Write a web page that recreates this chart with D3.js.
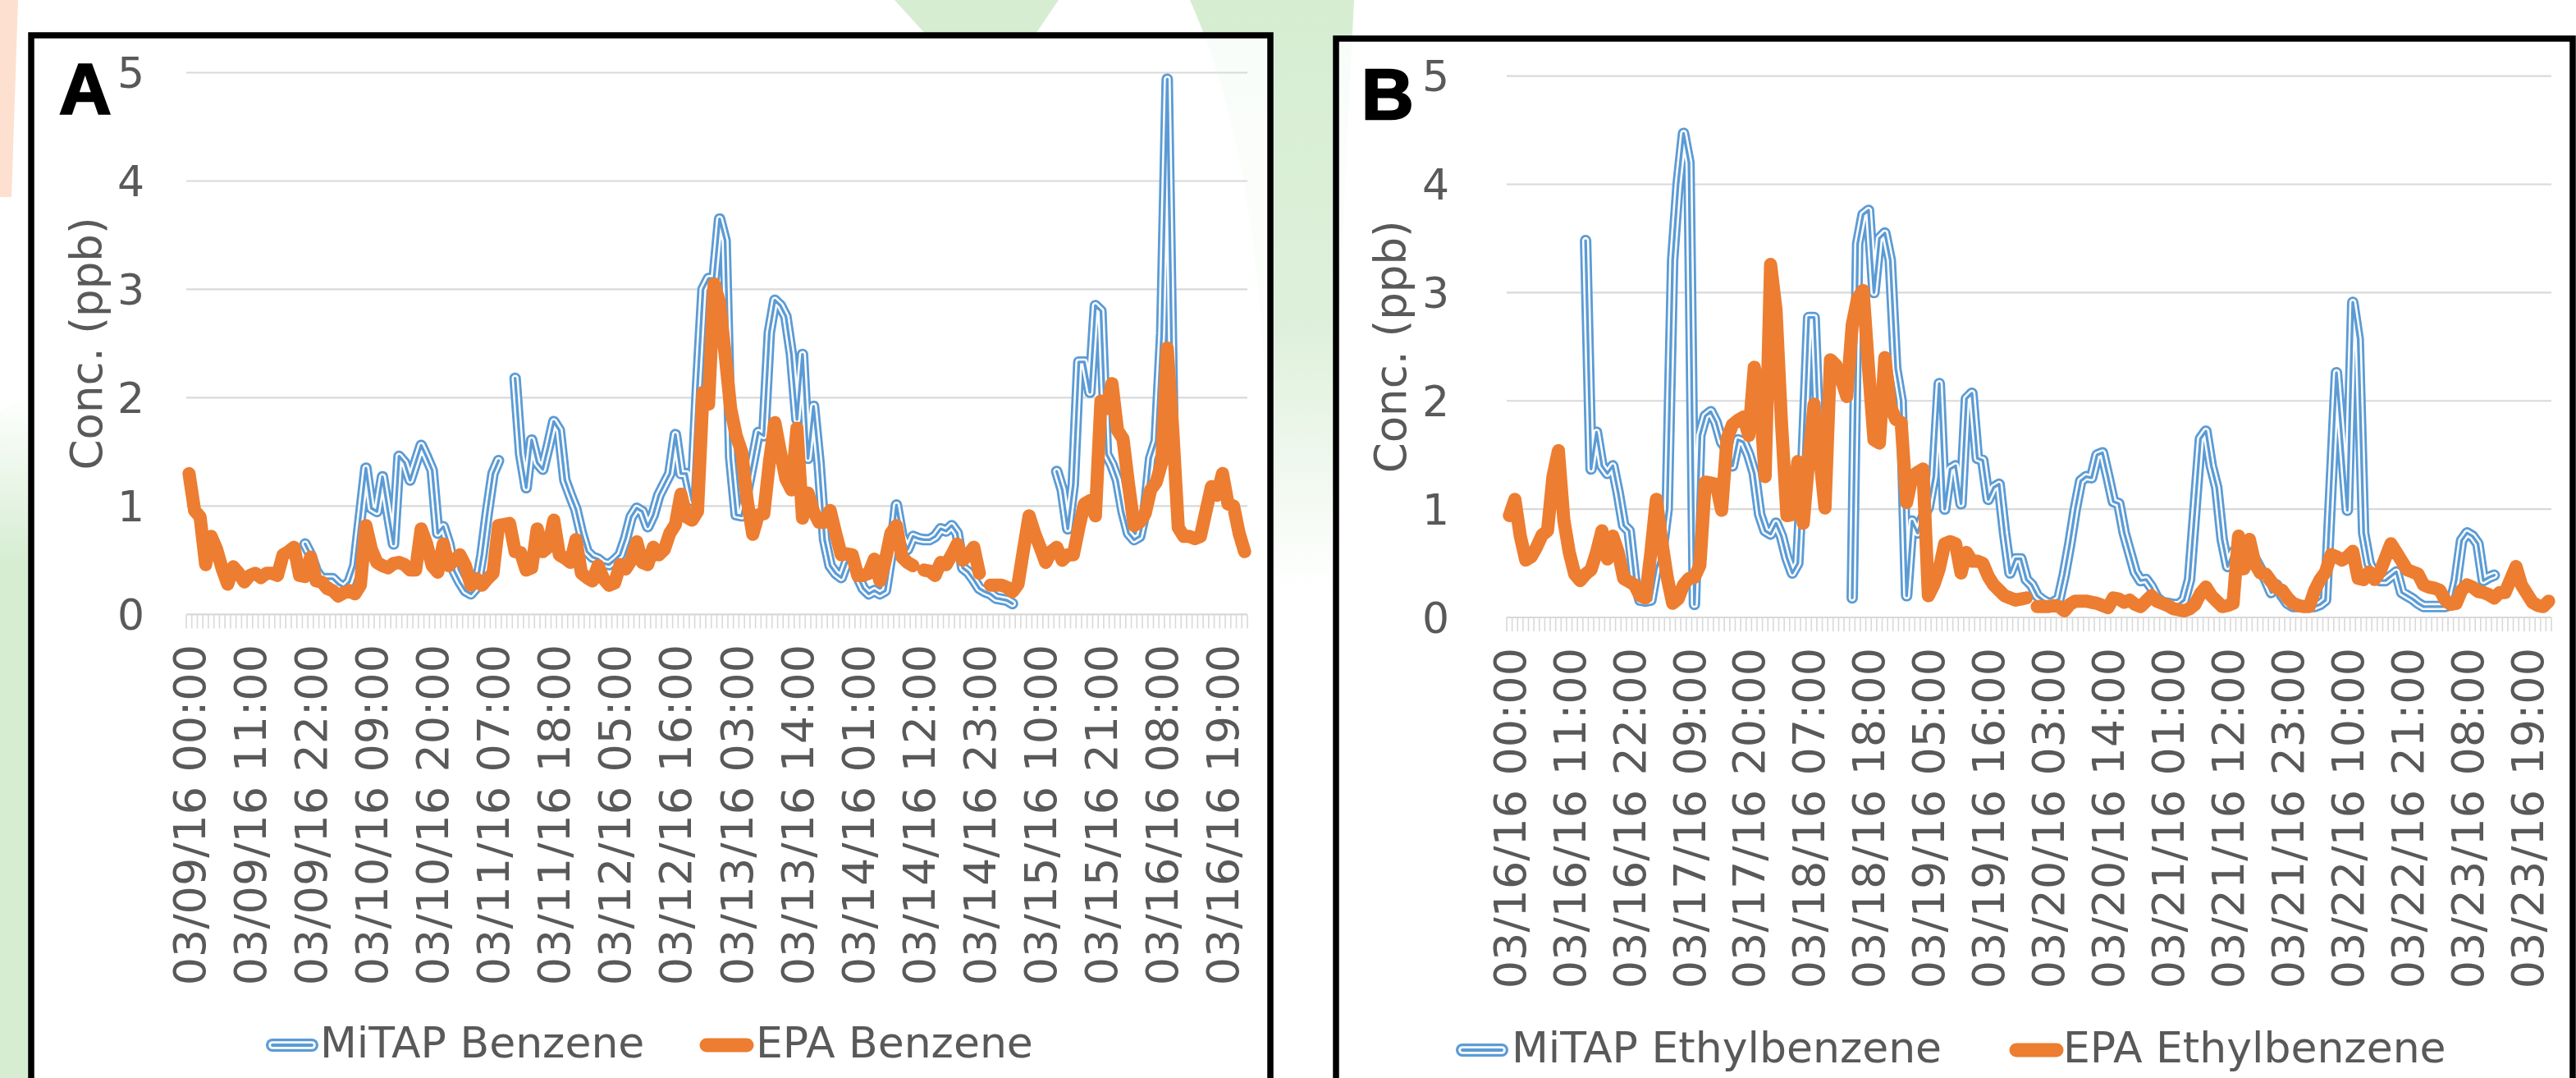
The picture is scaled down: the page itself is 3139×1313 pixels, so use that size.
<!DOCTYPE html>
<html><head><meta charset="utf-8">
<script src="https://cdnjs.cloudflare.com/ajax/libs/d3/7.8.5/d3.min.js"></script>
<style>html,body{margin:0;padding:0;background:#fff;overflow:hidden;} svg{display:block;}</style>
</head><body><svg id="c" width="3139" height="1313"></svg>
<script>
// ---------------- DATA ----------------
const N = 192; // hourly categories per panel
const tickLabelsA = ["03/09/16 00:00","03/09/16 11:00","03/09/16 22:00","03/10/16 09:00","03/10/16 20:00","03/11/16 07:00","03/11/16 18:00","03/12/16 05:00","03/12/16 16:00","03/13/16 03:00","03/13/16 14:00","03/14/16 01:00","03/14/16 12:00","03/14/16 23:00","03/15/16 10:00","03/15/16 21:00","03/16/16 08:00","03/16/16 19:00"];
const tickLabelsB = ["03/16/16 00:00","03/16/16 11:00","03/16/16 22:00","03/17/16 09:00","03/17/16 20:00","03/18/16 07:00","03/18/16 18:00","03/19/16 05:00","03/19/16 16:00","03/20/16 03:00","03/20/16 14:00","03/21/16 01:00","03/21/16 12:00","03/21/16 23:00","03/22/16 10:00","03/22/16 21:00","03/23/16 08:00","03/23/16 19:00"];
const yTicks = [0,1,2,3,4,5];
const _ = null;

const mitapBenzene = [
 _,_,_,_,_,_,_,_,_,_,_,_,
 _,_,_,_,_,_,_,_,_,0.65,0.55,0.40,
 0.33,0.33,0.33,0.28,0.25,0.30,0.45,0.90,1.35,0.98,0.95,1.27,
 0.95,0.65,1.46,1.40,1.24,1.40,1.56,1.45,1.33,0.75,0.81,0.65,
 0.40,0.30,0.22,0.19,0.25,0.55,0.95,1.30,1.42,_,_,2.18,
 1.48,1.17,1.61,1.40,1.34,1.55,1.78,1.70,1.24,1.10,0.97,0.75,
 0.58,0.53,0.51,0.47,0.46,0.50,0.55,0.70,0.90,0.98,0.95,0.81,
 0.92,1.10,1.20,1.30,1.66,1.30,1.30,1.05,2.10,3.00,3.10,3.10,
 3.65,3.45,1.45,0.92,0.91,1.15,1.41,1.68,1.65,2.60,2.90,2.85,
 2.75,2.40,1.80,2.40,1.44,1.92,1.40,0.69,0.45,0.38,0.34,0.48,
 0.52,0.35,0.24,0.19,0.22,0.19,0.22,0.55,1.01,0.72,0.60,0.72,
 0.70,0.69,0.69,0.72,0.79,0.77,0.82,0.75,0.43,0.39,0.32,0.24,
 0.21,0.19,0.15,0.14,0.13,0.10,_,_,_,_,_,_,
 _,1.32,1.15,0.79,1.20,2.33,2.33,2.05,2.85,2.80,1.48,1.38,
 1.24,0.95,0.75,0.69,0.72,0.95,1.44,1.60,2.60,4.94,1.80,_,
 _,_,_,_,_,_,_,_,_,_,_,_
];
const epaBenzene = [
 1.30,0.96,0.90,0.46,0.72,0.60,0.42,0.28,0.44,0.38,0.30,0.36,
 0.38,0.34,0.38,0.38,0.36,0.55,0.58,0.62,0.36,0.35,0.53,0.31,
 0.30,0.24,0.22,0.17,0.20,0.22,0.19,0.27,0.82,0.60,0.48,0.45,
 0.43,0.47,0.48,0.46,0.41,0.41,0.79,0.65,0.45,0.39,0.65,0.45,
 0.50,0.55,0.45,0.27,0.33,0.27,0.33,0.38,0.82,0.83,0.84,0.58,
 0.57,0.41,0.43,0.79,0.58,0.62,0.87,0.55,0.52,0.48,0.69,0.38,
 0.34,0.31,0.45,0.33,0.27,0.29,0.46,0.42,0.50,0.67,0.48,0.46,
 0.62,0.55,0.60,0.75,0.83,1.11,0.90,0.87,0.95,2.05,1.94,3.05,
 2.88,2.40,1.90,1.65,1.50,1.05,0.74,0.92,0.93,1.40,1.77,1.50,
 1.25,1.15,1.72,0.89,1.12,0.95,0.85,0.85,0.96,0.75,0.55,0.56,
 0.55,0.36,0.36,0.38,0.51,0.31,0.50,0.75,0.82,0.53,0.48,0.45,
 _,0.41,0.40,0.36,0.48,0.46,0.55,0.65,0.50,0.55,0.62,0.38,
 _,0.27,0.27,0.27,0.25,0.21,0.28,0.60,0.91,0.75,0.62,0.48,
 0.58,0.62,0.50,0.55,0.55,0.80,1.02,1.05,0.91,1.97,1.90,2.13,
 1.70,1.62,1.20,0.82,0.85,0.93,1.15,1.22,1.40,2.46,1.70,0.80,
 0.72,0.72,0.70,0.72,0.95,1.18,1.10,1.30,1.02,1.00,0.75,0.58
];
const mitapEthyl = [
 _,_,_,_,_,_,_,_,_,_,_,_,
 _,_,3.48,1.37,1.71,1.40,1.33,1.40,1.15,0.85,0.80,0.35,
 0.16,0.15,0.16,0.45,0.60,1.00,3.30,4.00,4.47,4.20,0.12,1.68,
 1.86,1.90,1.80,1.62,1.55,1.40,1.64,1.62,1.50,1.33,0.95,0.80,
 0.77,0.87,0.75,0.55,0.41,0.50,1.50,2.77,2.77,1.50,_,_,
 _,_,_,0.18,3.45,3.72,3.76,3.00,3.50,3.55,3.30,2.30,
 2.00,0.20,0.89,0.78,0.92,1.02,1.30,2.16,1.00,1.37,1.40,1.05,
 2.02,2.07,1.47,1.45,1.09,1.20,1.23,0.78,0.41,0.54,0.54,0.35,
 0.30,0.20,0.16,0.13,0.14,0.17,0.40,0.68,1.00,1.26,1.30,1.29,
 1.50,1.52,1.30,1.07,1.05,0.78,0.60,0.42,0.34,0.35,0.28,0.18,
 0.14,0.13,0.12,0.12,0.16,0.35,1.00,1.65,1.72,1.40,1.20,0.72,
 0.47,0.60,0.65,0.62,0.58,0.54,0.45,0.35,0.23,0.30,0.20,0.13,
 0.10,0.10,0.10,0.10,0.10,0.12,0.16,1.20,2.26,1.64,0.99,2.91,
 2.57,0.78,0.50,0.40,0.34,0.34,0.38,0.42,0.23,0.20,0.17,0.13,
 0.10,0.10,0.10,0.10,0.10,0.12,0.34,0.71,0.78,0.75,0.68,0.34,
 0.37,0.39,_,_,_,_,_,_,_,_,_,_
];
const epaEthyl = [
 0.94,1.09,0.75,0.53,0.56,0.65,0.76,0.80,1.30,1.54,0.90,0.60,
 0.40,0.34,0.40,0.44,0.60,0.80,0.54,0.75,0.60,0.36,0.33,0.30,
 0.20,0.18,0.60,1.09,0.70,0.37,0.13,0.17,0.30,0.36,0.37,0.48,
 1.25,1.24,1.23,0.99,1.65,1.78,1.82,1.85,1.68,2.31,2.05,1.30,
 3.26,2.84,1.80,0.94,0.95,1.44,0.87,1.45,1.97,1.50,1.01,2.38,
 2.33,2.20,2.04,2.70,2.95,3.02,2.30,1.64,1.61,2.40,1.95,1.83,
 1.80,1.06,1.30,1.34,1.37,0.20,0.30,0.45,0.68,0.70,0.68,0.41,
 0.60,0.52,0.52,0.50,0.38,0.30,0.25,0.20,0.18,0.16,0.17,0.18,
 _,0.10,0.10,0.10,0.11,0.10,0.06,0.12,0.15,0.15,0.15,0.14,
 0.13,0.11,0.09,0.18,0.17,0.14,0.16,0.12,0.10,0.15,0.20,0.15,
 0.13,0.11,0.08,0.07,0.06,0.08,0.12,0.22,0.28,0.20,0.15,0.10,
 0.11,0.13,0.75,0.45,0.72,0.50,0.41,0.40,0.33,0.27,0.25,0.18,
 0.13,0.11,0.10,0.10,0.25,0.35,0.42,0.58,0.56,0.53,0.56,0.61,
 0.36,0.35,0.42,0.35,0.42,0.55,0.68,0.60,0.52,0.44,0.42,0.40,
 0.30,0.28,0.27,0.25,0.16,0.12,0.13,0.25,0.30,0.28,0.24,0.23,
 0.21,0.18,0.23,0.23,0.35,0.47,0.30,0.22,0.14,0.11,0.10,0.15
];
[mitapBenzene,epaBenzene,mitapEthyl,epaEthyl].forEach((a,k)=>{ if(a.length!==N) throw new Error("series "+k+" length "+a.length); });

// ---------------- STYLE ----------------
const BLUE = "#5B9BD5", ORANGE = "#ED7D31", GRID = "#d9d9d9", TXT = "#595959";
const FONT = "'DejaVu Sans', Verdana, sans-serif";
const EPA_W = 16, MITAP_W = 14;

const svg = d3.select("#c");
const defs = svg.append("defs");
const grad = defs.append("linearGradient").attr("id","fadeG").attr("x1",0).attr("y1",0).attr("x2",0).attr("y2",1);
grad.append("stop").attr("offset","0%").attr("stop-color","#d6edd2").attr("stop-opacity",1);
grad.append("stop").attr("offset","55%").attr("stop-color","#d6edd2").attr("stop-opacity",0.8);
grad.append("stop").attr("offset","100%").attr("stop-color","#d6edd2").attr("stop-opacity",0);
const grad2 = defs.append("linearGradient").attr("id","fadeL").attr("x1",0).attr("y1",0).attr("x2",0).attr("y2",1);
grad2.append("stop").attr("offset","0%").attr("stop-color","#d6edd2").attr("stop-opacity",0);
grad2.append("stop").attr("offset","25%").attr("stop-color","#d6edd2").attr("stop-opacity",1);
grad2.append("stop").attr("offset","100%").attr("stop-color","#d6edd2").attr("stop-opacity",1);

svg.append("rect").attr("width",3139).attr("height",1313).attr("fill","#fff");

// faint background decoration
const bg = svg.append("g");
bg.append("path").attr("d","M1450,0 L1650,0 C1640,200 1630,400 1620,720 L1550,720 C1545,400 1530,180 1450,0 Z").attr("fill","url(#fadeG)");
bg.append("path").attr("d","M1090,0 L1290,0 L1260,44 L1130,44 Z").attr("fill","#d6edd2");
bg.append("path").attr("d","M0,0 L22,0 L14,240 L0,240 Z").attr("fill","#fde0cf");
bg.append("path").attr("d","M0,500 L36,480 L36,1313 L0,1313 Z").attr("fill","url(#fadeL)");

function panel(cfg){
  const g = svg.append("g");
  // frame
  g.append("rect").attr("x",cfg.fx0).attr("y",cfg.fy0).attr("width",cfg.fx1-cfg.fx0).attr("height",1400)
    .attr("fill","#fff").attr("fill-opacity",0.85).attr("stroke","#000").attr("stroke-width",7.5);

  const x = d3.scaleBand().domain(d3.range(N)).range([cfg.px0,cfg.px1]).padding(0);
  const y = d3.scaleLinear().domain([0,5]).range([cfg.py0,cfg.py5]);
  const cx = i => x(i) + x.bandwidth()/2;

  // gridlines
  g.append("g").selectAll("line").data(yTicks).join("line")
    .attr("x1",cfg.px0).attr("x2",cfg.px1).attr("y1",d=>y(d)).attr("y2",d=>y(d))
    .attr("stroke",GRID).attr("stroke-width",2.2);
  // category tick marks (boundaries)
  const bounds = d3.range(N).map(i=>x(i)).concat([cfg.px1]);
  g.append("g").selectAll("line").data(bounds).join("line")
    .attr("x1",d=>d).attr("x2",d=>d).attr("y1",y(0)).attr("y2",y(0)+17)
    .attr("stroke",GRID).attr("stroke-width",1.6);

  // y tick labels
  g.append("g").selectAll("text").data(yTicks).join("text")
    .attr("x",cfg.ylabX).attr("y",d=>y(d)).attr("dy","0.36em")
    .attr("text-anchor","end").attr("font-family",FONT).attr("font-size",52).attr("fill",TXT)
    .text(d=>d);
  // y title
  g.append("text").attr("transform",`translate(${cfg.titleX},${(cfg.py0+cfg.py5)/2}) rotate(-90)`)
    .attr("dy","0.32em").attr("text-anchor","middle").attr("font-family",FONT).attr("font-size",53).attr("fill",TXT)
    .text("Conc. (ppb)");
  // x tick labels every 11 hours
  g.append("g").selectAll("text").data(cfg.labels).join("text")
    .attr("transform",(d,k)=>`translate(${cx(k*11)},${cfg.xlabY}) rotate(-90)`)
    .attr("dy","0.36em").attr("text-anchor","end").attr("font-family",FONT).attr("font-size",54).attr("fill",TXT)
    .text(d=>d);

  const line = d3.line().defined(d=>d!=null).x((d,i)=>cx(i)).y(d=>y(d));
  // MiTAP: compound (triple) blue line
  const gp = g.append("g").attr("fill","none").attr("stroke-linejoin","round").attr("stroke-linecap","round");
  gp.append("path").attr("d",line(cfg.mitap)).attr("stroke",BLUE).attr("stroke-width",MITAP_W);
  gp.append("path").attr("d",line(cfg.mitap)).attr("stroke","#fff").attr("stroke-width",MITAP_W*0.6);
  gp.append("path").attr("d",line(cfg.mitap)).attr("stroke",BLUE).attr("stroke-width",MITAP_W*0.24);
  // EPA: thick orange
  gp.append("path").attr("d",line(cfg.epa)).attr("stroke",ORANGE).attr("stroke-width",EPA_W);

  // legend
  const lg = g.append("g").attr("stroke-linecap","round");
  const seg = (sel,w,c)=>sel.append("line").attr("y1",cfg.legY).attr("y2",cfg.legY).attr("stroke",c).attr("stroke-width",w);
  seg(lg,MITAP_W+2,BLUE).attr("x1",cfg.leg[0]+8).attr("x2",cfg.leg[0]+56);
  seg(lg,(MITAP_W+2)*0.6,"#fff").attr("x1",cfg.leg[0]+8).attr("x2",cfg.leg[0]+56);
  seg(lg,(MITAP_W+2)*0.24,BLUE).attr("x1",cfg.leg[0]+8).attr("x2",cfg.leg[0]+56);
  seg(lg,EPA_W+1,ORANGE).attr("x1",cfg.leg[2]+8).attr("x2",cfg.leg[2]+57);
  lg.append("text").attr("x",cfg.leg[1]).attr("y",cfg.legBase).attr("font-family",FONT).attr("font-size",52).attr("fill",TXT).text(cfg.names[0]);
  lg.append("text").attr("x",cfg.leg[3]).attr("y",cfg.legBase).attr("font-family",FONT).attr("font-size",52).attr("fill",TXT).text(cfg.names[1]);

  // panel letter
  g.append("text").attr("x",cfg.letterX).attr("y",cfg.letterY).attr("font-family","'Liberation Sans', Arial, sans-serif")
    .attr("font-weight","bold").attr("font-size",88).attr("fill","#000").attr("stroke","#000").attr("stroke-width",2.5)
    .text(cfg.letter);
}

panel({fx0:38, fy0:43, fx1:1548, px0:227, px1:1520, py0:748.4, py5:88.5,
  ylabX:176, titleX:107, xlabY:785, labels:tickLabelsA,
  mitap:mitapBenzene, epa:epaBenzene,
  leg:[324,390,853,921], legY:1273, legBase:1288, names:["MiTAP Benzene","EPA Benzene"],
  letter:"A", letterX:72, letterY:138});
panel({fx0:1628, fy0:47, fx1:3135, px0:1836, px1:3109, py0:752, py5:92.6,
  ylabX:1766, titleX:1696, xlabY:789, labels:tickLabelsB,
  mitap:mitapEthyl, epa:epaEthyl,
  leg:[1774,1842,2449,2514], legY:1279, legBase:1294, names:["MiTAP Ethylbenzene","EPA Ethylbenzene"],
  letter:"B", letterX:1659, letterY:145});
</script></body></html>
